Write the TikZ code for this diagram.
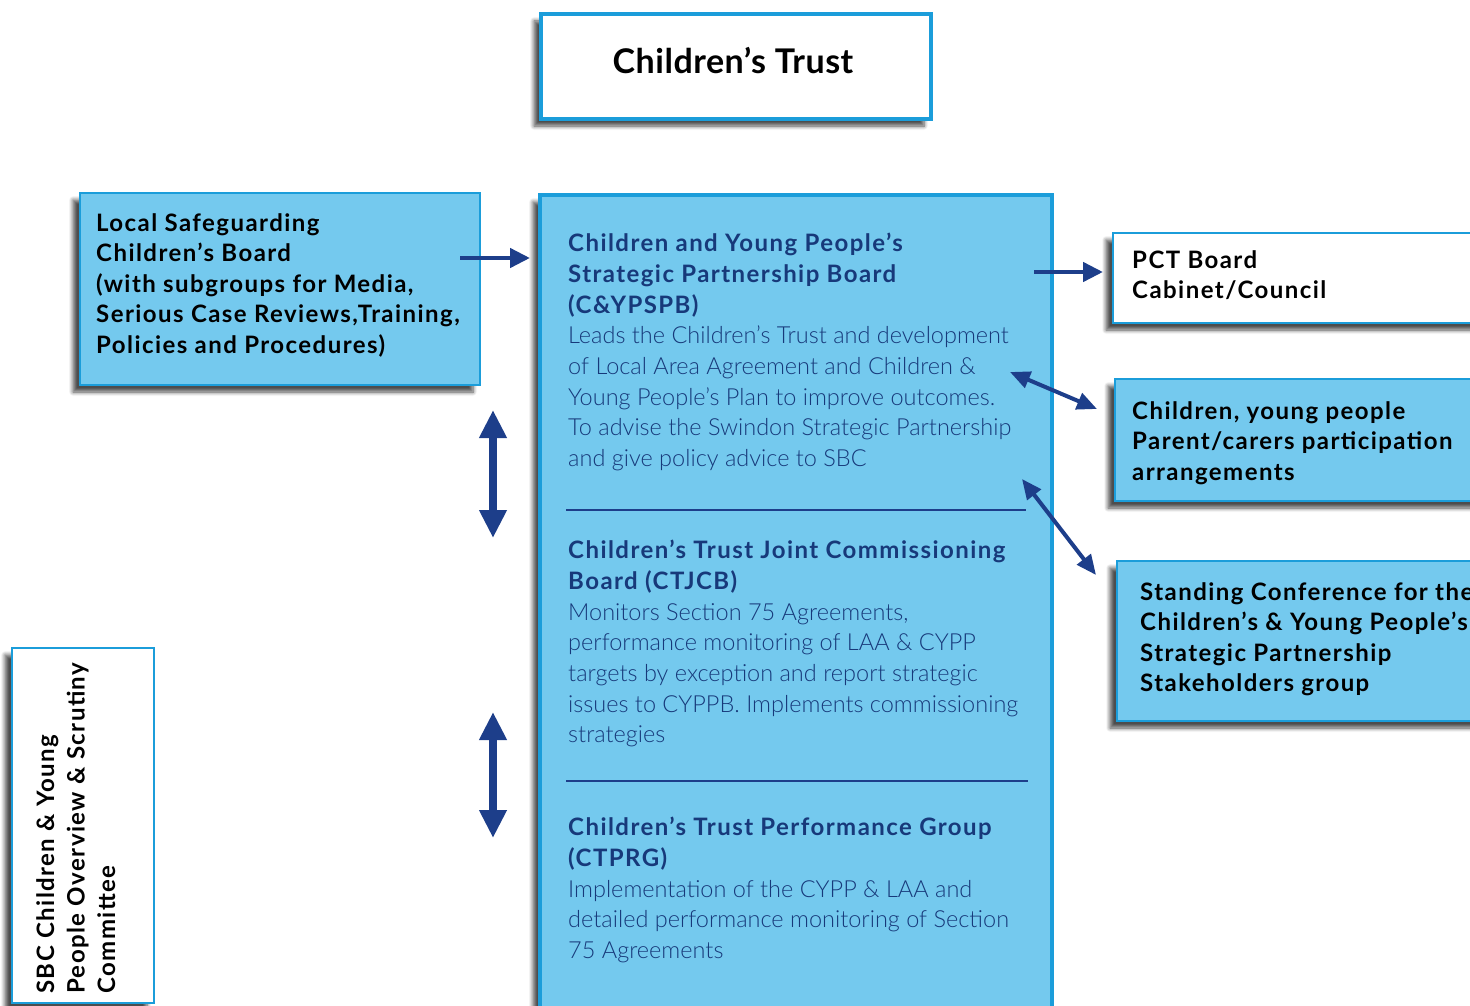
\documentclass[tikz,border=0pt]{standalone}
\usepackage{fontspec}
\setmainfont{Lato}
\newfontfamily\widefont{Lato}[LetterSpace=6]
\newfontfamily\titlefont{Lato}[LetterSpace=1.5]
\newfontfamily\lightfont{Lato Light}
\usetikzlibrary{arrows.meta,shadows.blur,calc}
\definecolor{paleblue}{HTML}{74C9EE}
\definecolor{rimblue}{HTML}{1B9DDA}
\definecolor{navy}{HTML}{1D3E8A}
\definecolor{inkblue}{HTML}{17397A}
\newcommand{\hd}[1]{{\widefont\bfseries\fontsize{24}{30.7}\selectfont #1}}
\begin{document}
\begin{tikzpicture}[x=1pt,y=-1pt,
  shade box/.style={blur shadow={shadow xshift=-7pt, shadow yshift=-7pt,
      shadow opacity=70, shadow blur steps=6, shadow blur radius=4pt}},
  box/.style={shade box, draw=rimblue, line width=2.5pt, inner sep=0pt,
      outer sep=0pt, anchor=north west},
  bluebox/.style={box, fill=paleblue},
  whitebox/.style={box, fill=white},
  blacktxt/.style={anchor=north west, inner sep=0pt, align=left,
      font=\widefont\bfseries\fontsize{24}{30.6}\selectfont, text=black},
  navytxt/.style={anchor=north west, inner sep=0pt, align=left,
      font=\lightfont\fontsize{23.5}{30.7}\selectfont, text=inkblue},
  arr/.style={navy, line width=4.5pt, -{Triangle[length=20pt,width=19pt]}},
  darr/.style={navy, line width=4pt,
      {Triangle[length=20pt,width=17pt]}-{Triangle[length=20pt,width=17pt]}},
  varr/.style={navy, line width=8pt,
      {Triangle[length=28pt,width=26pt]}-{Triangle[length=28pt,width=26pt]}},
  divider/.style={navy, line width=2.5pt}
]
\useasboundingbox (0,0) rectangle (1470,1006);
\clip (0,0) rectangle (1470,1006);

% title box
\node[whitebox, line width=4.5pt, minimum width=390pt, minimum height=105pt] (trust) at (541,14) {};
\node[font=\titlefont\bfseries\fontsize{34}{38}\selectfont, text=black] (trusttxt) at (733,61) {Children’s Trust};

% central board column
\node[bluebox, line width=4.5pt, minimum width=512pt, minimum height=830pt] (main) at (540,195) {};
\node[navytxt] (cyp) at (568,233) {\hd{Children and Young People’s}\\
  \hd{Strategic Partnership Board}\\
  \hd{(C\&YPSPB)}\\
  Leads the Children’s Trust and development\\
  of Local Area Agreement and Children \&\\
  Young People’s Plan to improve outcomes.\\
  To advise the Swindon Strategic Partnership\\
  and give policy advice to SBC};
\draw[divider] (566,510) -- (1026,510);
\node[navytxt] (ctjcb) at (568,540) {\hd{Children’s Trust Joint Commissioning}\\
  \hd{Board (CTJCB)}\\
  Monitors Section 75 Agreements,\\
  performance monitoring of LAA \& CYPP\\
  targets by exception and report strategic\\
  issues to CYPPB. Implements commissioning\\
  strategies};
\draw[divider] (566,781) -- (1028,781);
\node[navytxt] (ctprg) at (568,817) {\hd{Children’s Trust Performance Group}\\
  \hd{(CTPRG)}\\
  Implementation of the CYPP \& LAA and\\
  detailed performance monitoring of Section\\
  75 Agreements};

% safeguarding board
\node[bluebox, line width=2pt, minimum width=400pt, minimum height=192pt] (lscb) at (80,193) {};
\node[blacktxt] (lscbtxt) at (96,213) {Local Safeguarding\\
  Children’s Board\\
  (with subgroups for Media,\\
  Serious Case Reviews,Training,\\
  Policies and Procedures)};

% scrutiny committee
\node[whitebox, line width=2pt, minimum width=142pt, minimum height=355pt] (sbc) at (12,648) {};
\node[blacktxt, rotate=90] (sbctxt) at (36,994) {SBC Children \& Young\\
  People Overview \& Scrutiny\\
  Committee};

% right-hand bodies
\node[whitebox, line width=2.5pt, minimum width=380pt, minimum height=90pt] (pct) at (1113,233) {};
\node[blacktxt] (pcttxt) at (1132,250) {PCT Board\\ Cabinet/Council};
\node[bluebox, line width=2.5pt, minimum width=380pt, minimum height=122pt] (part) at (1115,379) {};
\node[blacktxt] (parttxt) at (1132,401) {Children, young people\\
  Parent/carers participation\\ arrangements};
\node[bluebox, line width=2.5pt, minimum width=380pt, minimum height=160pt] (stand) at (1117,561) {};
\node[blacktxt] (standtxt) at (1140,582) {Standing Conference for the\\
  Children’s \& Young People’s\\
  Strategic Partnership\\ Stakeholders group};

% connectors
\draw[arr] ([shift={(-20,65)}]lscb.north east) -- ([shift={(-10,63)}]main.north west);
\draw[arr] ([shift={(-18,77)}]main.north east) -- ([shift={(-10,39)}]pct.north west);
\draw[darr] ([shift={(-42,177)}]main.north east) -- ([shift={(-18,30)}]part.north west);
\draw[darr] ([shift={(-30,284)}]main.north east) -- ([shift={(-21,14)}]stand.north west);

\coordinate (v1a) at (493,410);
\coordinate (v1b) at (493,538);
\coordinate (v2a) at (493,712);
\coordinate (v2b) at (493,838);
\draw[varr] (v1a) -- (v1b);
\draw[varr] (v2a) -- (v2b);
\end{tikzpicture}
\end{document}
